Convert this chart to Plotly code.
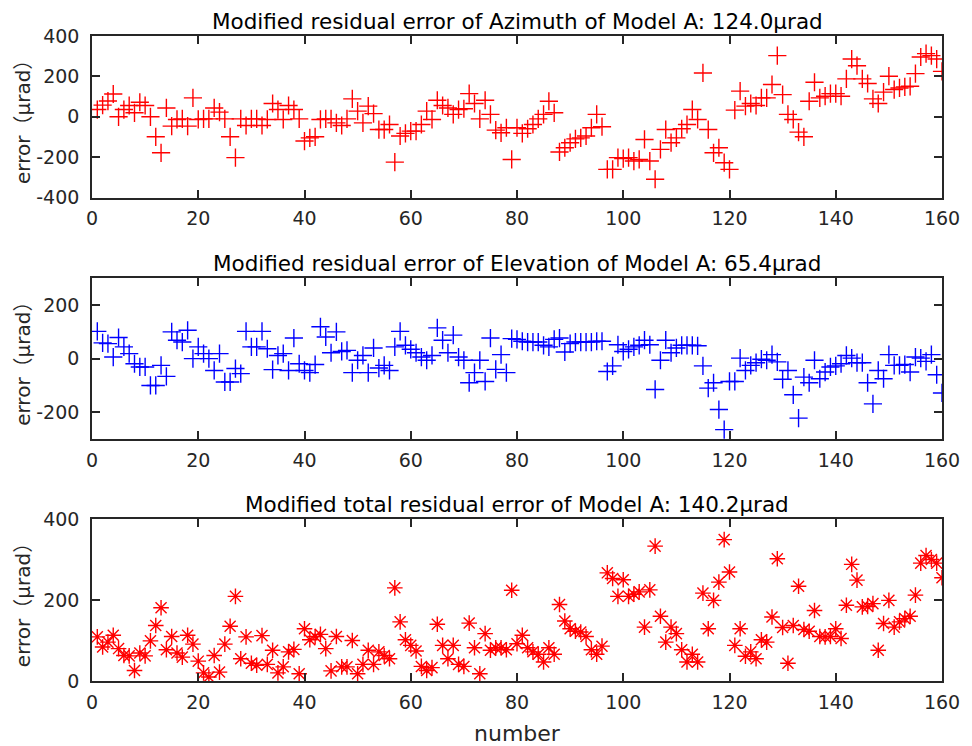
import plotly.graph_objects as go

number = list(range(1, 161))

azimuth = [36, 58, 78, 113, 0, 36, 56, 20, 72, 56, 0, -99, -178, 44, -46, -13, -10, -46, 94, -13,
           -10, -10, 44, 23, -10, -99, -202, -10, -43, -10, -10, -43, -13, 66, 36, -13, 56, 36, -10, -120,
           -104, -99, -13, -10, -10, -30, -43, -10, 89, 28, -30, 53, 16, -63, -63, -38, -224, -95, -82, -71,
           -71, -38, 28, -13, 82, 56, 44, 12, 36, 40, 115, 66, -10, 82, 12, -66, -79, -54, -211, -54,
           -82, -59, -38, -10, 12, 77, 20, -174, -153, -128, -109, -104, -95, -54, 12, -49, -260, -260, -202, -207,
           -202, -219, -211, -112, -219, -309, -161, -63, -128, -104, -59, -38, 36, -13, 217, -63, -178, -153, -227, -260,
           33, 127, 53, 66, 56, 94, 94, 160, 303, 110, 12, -13, -76, -99, 77, 171, 94, 102, 115, 115,
           102, 188, 286, 253, 188, 165, 89, 66, 122, 201, 135, 143, 148, 151, 214, 296, 313, 303, 286, 225]

elevation = [102, 59, 56, 6, 79, 44, 19, -19, -31, -31, -100, -100, -25, -66, 100, 69, 62, 106, 0, 44,
             19, 0, -44, 19, -87, -87, -37, -56, 102, 44, 44, 102, 37, -41, 12, 19, -44, 77, -19, -44,
             -52, -22, 119, 81, 22, 100, 27, 31, -52, -6, 12, -52, 40, -35, -25, -44, 44, 102, 50, 35,
             22, 6, -6, 12, 115, 69, 22, 88, 6, -6, -90, -52, -6, -85, 77, -40, 15, -52, 75, 72,
             65, 62, 62, 62, 50, 44, 72, 77, 25, 56, 62, 62, 62, 62, 65, 65, -48, -27, 52, 27,
             35, 44, 50, 69, 52, -115, -6, 69, 22, 40, 50, 50, 50, 48, -27, -110, -90, -190, -265, -85,
             -85, 2, -44, -25, -15, -2, -6, 15, -12, -77, -44, -135, -222, -69, -90, -6, -75, -50, -31, -27,
             -19, 12, 2, -15, -15, -90, -169, -44, -75, 15, -25, -25, -22, -50, 6, 2, -10, 15, -60, -128]

total = [109, 84, 96, 113, 80, 63, 62, 26, 69, 62, 99, 137, 181, 77, 110, 69, 59, 113, 91, 49,
         20, 10, 63, 22, 91, 135, 209, 55, 109, 44, 39, 112, 41, 76, 20, 35, 72, 78, 18, 129,
         102, 110, 115, 80, 25, 110, 35, 35, 100, 18, 41, 76, 41, 72, 63, 55, 230, 146, 102, 88,
         74, 36, 26, 33, 140, 88, 55, 88, 41, 36, 143, 82, 18, 117, 76, 82, 82, 77, 224, 92,
         113, 82, 72, 66, 47, 82, 66, 189, 148, 129, 123, 121, 110, 77, 66, 86, 267, 253, 209, 250,
         209, 214, 220, 133, 225, 333, 160, 96, 133, 117, 77, 47, 66, 47, 217, 129, 199, 244, 349, 269,
         88, 129, 61, 72, 55, 102, 96, 158, 302, 132, 44, 137, 234, 127, 123, 174, 110, 109, 110, 129,
         105, 187, 288, 249, 183, 184, 191, 76, 142, 199, 133, 146, 154, 160, 212, 291, 310, 300, 291, 255]

titles = ["Modified residual error of Azimuth of Model A: 124.0\u03bcrad",
          "Modified residual error of Elevation of Model A: 65.4\u03bcrad",
          "Modified total residual error of Model A: 140.2\u03bcrad"]
ylabel = "error\uff08\u03bcrad\uff09"
xlabel = "number"
x_ticks = [0, 20, 40, 60, 80, 100, 120, 140, 160]
y_ticks = [[-400, -200, 0, 200, 400], [-200, 0, 200], [0, 200, 400]]
y_tick_text = [["-400", "-200", "0", "200", "400"], ["-200", "0", "200"], ["0", "200", "400"]]
y_ranges = [[-400, 400], [-300, 300], [0, 400]]

FONT = "DejaVu Sans, Noto Sans CJK SC, sans-serif"
AX = "#262626"
domains = [[0.7494, 1.0], [0.3752, 0.6243], [0.0, 0.2512]]

fig = go.Figure()
fig.add_trace(go.Scatter(x=number, y=azimuth, mode="markers", xaxis="x", yaxis="y",
                         marker=dict(symbol="cross-thin-open", size=13, color="#ff0000",
                                     line=dict(color="#ff0000", width=1.4))))
fig.add_trace(go.Scatter(x=number, y=elevation, mode="markers", xaxis="x2", yaxis="y2",
                         marker=dict(symbol="cross-thin-open", size=13, color="#0000ff",
                                     line=dict(color="#0000ff", width=1.4))))
fig.add_trace(go.Scatter(x=number, y=total, mode="markers", xaxis="x3", yaxis="y3",
                         marker=dict(symbol="asterisk-open", size=13, color="#ff0000",
                                     line=dict(color="#ff0000", width=1.4))))

# page body has an 8px default margin: figure is sized so the plot lands where the reference has it
layout = dict(width=964, height=738, margin=dict(l=84, r=21, t=28, b=65),
              paper_bgcolor="white", plot_bgcolor="white", showlegend=False,
              font=dict(family=FONT, size=19, color=AX))
annotations = []
for i in range(3):
    sx = "" if i == 0 else str(i + 1)
    layout["xaxis" + sx] = dict(domain=[0, 1], anchor="y" + sx, range=[0, 160], tickvals=x_ticks,
                                showline=True, linecolor=AX, linewidth=1.6, mirror="ticks",
                                ticks="inside", ticklen=8, tickwidth=1.6, tickcolor=AX,
                                showgrid=False, zeroline=False, ticklabelstandoff=3,
                                tickfont=dict(family=FONT, size=19, color=AX))
    layout["yaxis" + sx] = dict(domain=domains[i], anchor="x" + sx, range=y_ranges[i],
                                tickvals=y_ticks[i], ticktext=y_tick_text[i],
                                showline=True, linecolor=AX, linewidth=1.6, mirror="ticks",
                                ticks="inside", ticklen=8, tickwidth=1.6, tickcolor=AX,
                                showgrid=False, zeroline=False, ticklabelstandoff=7,
                                tickfont=dict(family=FONT, size=19, color=AX))
    annotations.append(dict(text=titles[i], xref="paper", yref="paper", x=0.5, y=domains[i][1],
                            xanchor="center", yanchor="bottom", yshift=1, borderpad=0, showarrow=False,
                            font=dict(family=FONT, size=21.5, color="#000000")))
    annotations.append(dict(text=ylabel, xref="paper", yref="paper", x=-0.081,
                            y=(domains[i][0] + domains[i][1]) / 2, xanchor="center", yanchor="middle",
                            textangle=-90, showarrow=False, font=dict(family=FONT, size=20, color=AX)))
annotations.append(dict(text=xlabel, xref="paper", yref="paper", x=0.5, y=0, yshift=-38,
                        xanchor="center", yanchor="top", showarrow=False,
                        font=dict(family=FONT, size=22, color=AX)))
layout["annotations"] = annotations
fig.update_layout(**layout)
fig.write_html("out.html")
